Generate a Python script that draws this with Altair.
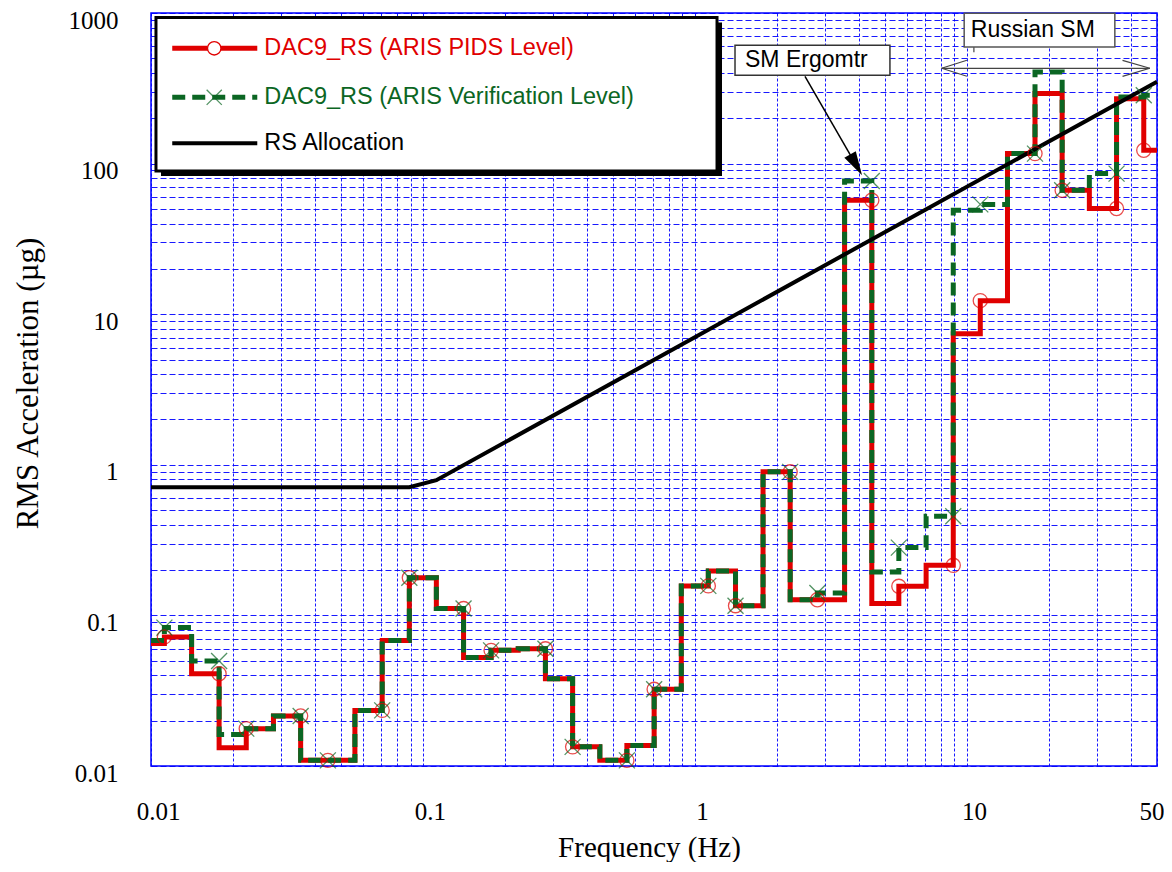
import altair as alt
import pandas as pd

# ---------------- data ----------------
# one-third-octave band edges (Hz), trimmed to the 0.01-50 Hz axis range
band_edges = [0.01, 0.0112, 0.0141, 0.0178, 0.0224, 0.0282, 0.0355, 0.0447, 0.0562, 0.0708,
              0.0891, 0.112, 0.141, 0.178, 0.224, 0.282, 0.355, 0.447, 0.562, 0.708,
              0.891, 1.12, 1.41, 1.78, 2.24, 2.82, 3.55, 4.47, 5.62, 7.08,
              8.91, 11.2, 14.1, 17.8, 22.4, 28.2, 35.5, 44.7, 50]

# RMS acceleration per band (micro-g)
pids_level = [0.065, 0.072, 0.041, 0.0132, 0.0177, 0.0215, 0.0109, 0.0109, 0.0234, 0.068,
              0.178, 0.111, 0.0525, 0.0586, 0.060, 0.038, 0.0134, 0.0109, 0.0137, 0.0323,
              0.157, 0.197, 0.116, 0.898, 0.127, 0.127, 57.1, 0.120, 0.156, 0.215,
              7.43, 12.3, 116.5, 292, 66.5, 50.3, 270, 122.6]

verif_level = [0.068, 0.083, 0.0498, 0.0162, 0.0177, 0.0215, 0.0109, 0.0109, 0.0234, 0.068,
               0.178, 0.111, 0.0525, 0.0586, 0.060, 0.038, 0.0134, 0.0109, 0.0137, 0.0323,
               0.157, 0.197, 0.116, 0.898, 0.127, 0.141, 76.6, 0.194, 0.282, 0.455,
               49.0, 53.6, 116.5, 405, 66.5, 85.8, 277, 284]

alloc_freq = [0.01, 0.0891, 0.112, 50]
alloc_level = [0.71, 0.71, 0.79, 350]

x_grid = [0.01, 0.02, 0.03, 0.04, 0.05, 0.06, 0.07, 0.08, 0.09,
          0.1, 0.2, 0.3, 0.4, 0.5, 0.6, 0.7, 0.8, 0.9,
          1, 2, 3, 4, 5, 6, 7, 8, 9,
          10, 20, 30, 40, 50]
x_labels = [0.01, 0.1, 1, 10, 50]
y_grid = [0.01, 0.02, 0.03, 0.04, 0.05, 0.06, 0.07, 0.08, 0.09,
          0.1, 0.2, 0.3, 0.4, 0.5, 0.6, 0.7, 0.8, 0.9,
          1, 2, 3, 4, 5, 6, 7, 8, 9,
          10, 20, 30, 40, 50, 60, 70, 80, 90,
          100, 200, 300, 400, 500, 600, 700, 800, 900, 1000]
y_labels = [0.01, 0.1, 1, 10, 100, 1000]

series_names = ["DAC9_RS (ARIS PIDS Level)",
                "DAC9_RS (ARIS Verification Level)",
                "RS Allocation"]

# legend / annotation placement, in data units (Hz, micro-g)
legend_box = dict(f=0.01043, f2=1.2056, v=932.1, v2=89.31)
legend_shadow = dict(f=0.010883, f2=1.2576, v=863.5, v2=82.76)
legend_line_f = [0.01197, 0.02459]
legend_mark_f = 0.01708
legend_text_f = 0.02609
legend_row_v = [583.1, 275.6, 136.4]

sm_box = dict(f=1.404, f2=5.212, v=610.4, v2=385.8)
sm_text = dict(f=1.528, v=485.2, t="SM Ergomtr")
sm_arrow = dict(f=2.539, v=379.9, f2=3.912, v2=98.0)

ru_box = dict(f=9.772, f2=34.99, v=995.0, v2=594.6)
ru_text = dict(f=10.34, v=767.6, t="Russian SM")
ru_segments = [
    dict(f=10.61, v=594.6, f2=10.61, v2=548.3),
    dict(f=8.072, v=429.4, f2=47.05, v2=429.4),
    dict(f=8.072, v=429.4, f2=10.0, v2=485.2),
    dict(f=8.072, v=429.4, f2=10.0, v2=379.9),
    dict(f=47.05, v=429.4, f2=37.34, v2=485.2),
    dict(f=47.05, v=429.4, f2=37.34, v2=379.9),
]

RED = "#E00000"
GREEN = "#0B6623"
BLUE = "#0000FF"
SERIF = "Liberation Serif"
SANS = "Liberation Sans"
XMARK = "M-1,-1L1,1M-1,1L1,-1"


def steps(values):
    rows = []
    for k, v in enumerate(values):
        rows.append(dict(f=band_edges[k], v=v, o=2 * k))
        rows.append(dict(f=band_edges[k + 1], v=v, o=2 * k + 1))
    return pd.DataFrame(rows)


pids_df = steps(pids_level)
verif_df = steps(verif_level)
pids_mk = pids_df.iloc[2::3]
verif_mk = verif_df.iloc[2::3]
alloc_df = pd.DataFrame(dict(f=alloc_freq, v=alloc_level, o=list(range(len(alloc_freq)))))

xs = alt.Scale(type="log", domain=[0.01, 50], nice=False)
ys = alt.Scale(type="log", domain=[0.01, 1000], nice=False)

xlab_test = " || ".join(f"datum.value == {v}" for v in x_labels)
ylab_test = " || ".join(f"datum.value == {v}" for v in y_labels)

x_axis = alt.Axis(
    values=x_grid, title="Frequency (Hz)", format="~g",
    labelExpr=f"({xlab_test}) ? format(datum.value, '~g') : ''",
    labelFont=SERIF, labelFontSize=25, labelColor="black",
    labelAlign={"condition": {"test": "datum.value == 50", "value": "right"}, "value": "center"},
    labelBaseline="top", labelPadding=33, labelOffset=7, labelOverlap=False,
    ticks=False, domain=False, grid=True, gridColor=BLUE, gridDash=[3, 2],
    gridWidth=1, gridOpacity=0.9,
    titleFont=SERIF, titleFontSize=29, titleFontWeight="normal", titleColor="black",
    titleX=498, titleY=90, titleBaseline="alphabetic", titleAlign="center",
)
y_axis = alt.Axis(
    values=y_grid, title="RMS Acceleration (µg)", format="~g",
    labelExpr=f"({ylab_test}) ? format(datum.value, '~g') : ''",
    labelFont=SERIF, labelFontSize=25, labelColor="black",
    labelPadding=33, labelOffset=7, labelOverlap=False,
    ticks=False, domain=False, grid=True, gridColor=BLUE, gridDash=[6, 3],
    gridWidth=1, gridOpacity=0.9,
    titleFont=SERIF, titleFontSize=31, titleFontWeight="normal", titleColor="black",
    titleX=-123, titleY=370, titleAngle=-90, titleBaseline="middle", titleAlign="center",
)

X = lambda field="f": alt.X(f"{field}:Q", scale=xs, axis=x_axis)
Y = lambda field="v": alt.Y(f"{field}:Q", scale=ys, axis=y_axis)

red_line = alt.Chart(pids_df).mark_line(color=RED, strokeWidth=5, strokeJoin="miter").encode(
    x=X(), y=Y(), order="o:Q")
green_line = alt.Chart(verif_df).mark_line(color=GREEN, strokeWidth=5, strokeDash=[13, 7],
                                           strokeJoin="miter").encode(x=X(), y=Y(), order="o:Q")
alloc_line = alt.Chart(alloc_df).mark_line(color="black", strokeWidth=4).encode(
    x=X(), y=Y(), order="o:Q")
red_pts = alt.Chart(pids_mk).mark_point(shape="circle", size=200, color=RED, filled=False,
                                        strokeWidth=1.3).encode(x=X(), y=Y())
green_pts = alt.Chart(verif_mk).mark_point(shape=XMARK, size=256, color=GREEN, filled=False,
                                           strokeWidth=1.3).encode(x=X(), y=Y())

# ---- annotations ----
sm_rect = alt.Chart(pd.DataFrame([sm_box])).mark_rect(fill="white", stroke="#333333",
                                                      strokeWidth=1.5).encode(
    x=X(), x2="f2:Q", y=Y(), y2="v2:Q")
sm_label = alt.Chart(pd.DataFrame([sm_text])).mark_text(
    align="left", baseline="middle", font=SANS, fontSize=23, color="black").encode(
    x=X(), y=Y(), text="t:N")
sm_line = alt.Chart(pd.DataFrame([sm_arrow])).mark_rule(color="black", strokeWidth=1.5).encode(
    x=X(), x2="f2:Q", y=Y(), y2="v2:Q")
sm_head = alt.Chart(pd.DataFrame([dict(f=sm_arrow["f2"], v=sm_arrow["v2"])])).mark_point(
    shape="M0,-1L0.55,1L-0.55,1Z", size=576, angle=150, filled=True, color="black",
    opacity=1).encode(x=X(), y=Y())

ru_rect = alt.Chart(pd.DataFrame([ru_box])).mark_rect(fill="white", stroke="#555555",
                                                      strokeWidth=1.5).encode(
    x=X(), x2="f2:Q", y=Y(), y2="v2:Q")
ru_label = alt.Chart(pd.DataFrame([ru_text])).mark_text(
    align="left", baseline="middle", font=SANS, fontSize=23, color="black").encode(
    x=X(), y=Y(), text="t:N")
ru_lines = alt.Chart(pd.DataFrame(ru_segments)).mark_rule(color="#444444", strokeWidth=1.2).encode(
    x=X(), x2="f2:Q", y=Y(), y2="v2:Q")

# ---- legend ----
lg_shadow = alt.Chart(pd.DataFrame([legend_shadow])).mark_rect(fill="black").encode(
    x=X(), x2="f2:Q", y=Y(), y2="v2:Q")
lg_box = alt.Chart(pd.DataFrame([legend_box])).mark_rect(fill="white", stroke="black",
                                                         strokeWidth=3).encode(
    x=X(), x2="f2:Q", y=Y(), y2="v2:Q")
lg_seg = pd.DataFrame([dict(f=legend_line_f[0], f2=legend_line_f[1], v=v, i=i)
                       for i, v in enumerate(legend_row_v)])
lg_red = alt.Chart(lg_seg.iloc[[0]]).mark_rule(color=RED, strokeWidth=5).encode(
    x=X(), x2="f2:Q", y=Y())
lg_green = alt.Chart(lg_seg.iloc[[1]]).mark_rule(color=GREEN, strokeWidth=5,
                                                 strokeDash=[13, 7]).encode(x=X(), x2="f2:Q", y=Y())
lg_black = alt.Chart(lg_seg.iloc[[2]]).mark_rule(color="black", strokeWidth=4).encode(
    x=X(), x2="f2:Q", y=Y())
lg_circle = alt.Chart(pd.DataFrame([dict(f=legend_mark_f, v=legend_row_v[0])])).mark_point(
    shape="circle", size=180, color=RED, filled=True, fill="white", stroke=RED,
    strokeWidth=1.3, opacity=1).encode(x=X(), y=Y())
lg_x = alt.Chart(pd.DataFrame([dict(f=legend_mark_f, v=legend_row_v[1])])).mark_point(
    shape=XMARK, size=230, color=GREEN, filled=False, strokeWidth=1.3).encode(x=X(), y=Y())
lg_text_df = pd.DataFrame([dict(f=legend_text_f, v=v, t=t, c=c) for v, t, c in
                           zip(legend_row_v, series_names, [RED, GREEN, "black"])])
lg_text = alt.Chart(lg_text_df).mark_text(align="left", baseline="middle", font=SANS,
                                          fontSize=23.5).encode(
    x=X(), y=Y(), text="t:N", color=alt.Color("c:N", scale=None))

chart = alt.layer(
    red_line, green_line, alloc_line, red_pts, green_pts,
    sm_line, sm_head, sm_rect, sm_label,
    ru_lines, ru_rect, ru_label,
    lg_shadow, lg_box, lg_red, lg_green, lg_black, lg_circle, lg_x, lg_text,
).properties(
    width=1006, height=753,
    autosize=alt.AutoSizeParams(type="none"),
    padding={"left": 143, "top": 5, "right": 7, "bottom": 96},
    background="white",
).configure_view(stroke=BLUE, strokeWidth=1.5)

chart.save("out.html", embed_options={"renderer": "svg", "actions": False})
